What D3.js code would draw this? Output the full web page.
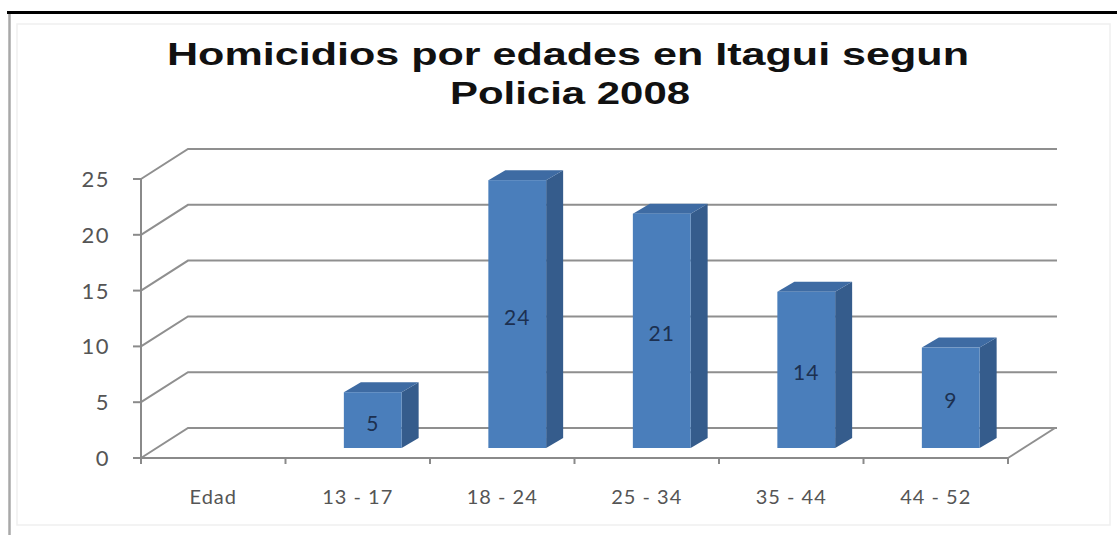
<!DOCTYPE html>
<html><head><meta charset="utf-8">
<script src="https://cdn.jsdelivr.net/npm/d3@7"></script>
<style>body{margin:0;background:#fff}svg{display:block}</style>
</head><body>
<svg id="c" width="1117" height="535"></svg>
<script>
const titleLines = ["Homicidios por edades en Itagui segun", "Policia 2008"];
const categories = ["Edad", "13 - 17", "18 - 24", "25 - 34", "35 - 44", "44 - 52"];
const values = [null, 5, 24, 21, 14, 9];
const yTicks = [0, 5, 10, 15, 20, 25];

const svg = d3.select("#c");
const W = 1117, H = 535;

// frame
svg.append("rect").attr("x",17).attr("y",24).attr("width",1093).attr("height",501)
  .attr("fill","#fff").attr("stroke","#efefef").attr("stroke-width",1.5);
svg.append("line").attr("x1",9.5).attr("x2",9.5).attr("y1",12).attr("y2",H)
  .attr("stroke","#a8a8a8").attr("stroke-width",2.5);
svg.append("line").attr("x1",7).attr("x2",W).attr("y1",12.5).attr("y2",12.5)
  .attr("stroke","#000").attr("stroke-width",3);

// scales
const x = d3.scaleBand().domain(categories).range([141, 1008]).padding(0);
const y = d3.scaleLinear().domain([0, 25]).range([458, 179]);
const DX = 47, DY = -30;        // wall depth
const BX = 15, BY = -10;        // bar depth position
const SX = 17, SY = -10;        // bar thickness
const barW = x.bandwidth() * 0.4;

const grid = svg.append("g").attr("stroke","#8f8f8f").attr("stroke-width",2).attr("fill","none");
yTicks.forEach(t => {
  const yy = y(t);
  grid.append("path").attr("d", `M${x.range()[0]},${yy}L${x.range()[0]+DX},${yy+DY}L${x.range()[1]+DX+2},${yy+DY}`);
});
grid.append("path").attr("d", `M${x.range()[1]},${y(0)}L${x.range()[1]+DX},${y(0)+DY}`);

// axes
const axisG = svg.append("g").attr("stroke","#8a8a8a").attr("stroke-width",2);
axisG.append("line").attr("x1",141).attr("x2",141).attr("y1",y(25)).attr("y2",y(0));
axisG.append("line").attr("x1",141).attr("x2",x.range()[1]).attr("y1",y(0)).attr("y2",y(0));
yTicks.forEach(t => axisG.append("line").attr("x1",133).attr("x2",141).attr("y1",y(t)).attr("y2",y(t)));
const bounds = categories.map(c => x(c)).concat([x.range()[1]]);
bounds.forEach(b => axisG.append("line").attr("x1",b).attr("x2",b).attr("y1",y(0)).attr("y2",y(0)+6));

// y labels
svg.append("g").selectAll("text").data(yTicks).join("text")
  .attr("x",110).attr("y",d=>y(d)).attr("dy","0.36em").attr("text-anchor","end")
  .attr("font-family","Lato, 'Open Sans', sans-serif").attr("font-size",22)
  .attr("letter-spacing",1.5)
  .attr("fill","#555").text(d=>d);

// x labels
svg.append("g").selectAll("text").data(categories).join("text")
  .attr("x",d=>x(d)+x.bandwidth()/2).attr("y",504).attr("text-anchor","middle")
  .attr("font-family","Lato, 'Open Sans', sans-serif").attr("font-size",20)
  .attr("letter-spacing",1)
  .attr("fill","#555").text(d=>d);

// bars
const data = categories.map((c,i)=>({c, v: values[i]})).filter(d=>d.v!=null);
const bars = svg.append("g");
data.forEach(d => {
  const x0 = x(d.c) + x.bandwidth()/2 + BX - barW/2;
  const x1 = x0 + barW;
  const yb = y(0) + BY;
  const yt = y(d.v) + BY;
  const g = bars.append("g");
  g.append("path").attr("fill","#355c8c")
    .attr("d", `M${x1},${yt}L${x1+SX},${yt+SY}L${x1+SX},${yb+SY}L${x1},${yb}Z`);
  g.append("path").attr("fill","#3e6ba3")
    .attr("d", `M${x0},${yt}L${x0+SX},${yt+SY}L${x1+SX},${yt+SY}L${x1},${yt}Z`);
  g.append("rect").attr("x",x0).attr("y",yt).attr("width",barW).attr("height",yb-yt)
    .attr("fill","#4a7ebb");
  g.append("text").attr("x",(x0+x1)/2).attr("y",(yt+yb)/2 + 3).attr("dy","0.36em")
    .attr("text-anchor","middle").attr("font-family","Lato, 'Open Sans', sans-serif")
    .attr("font-size",21).attr("letter-spacing",1).attr("fill","#1c3050").text(d.v);
});

// title
const tX = [167, 450], tW = [802, 240], tY = [65, 104];
titleLines.forEach((t,i) => {
  svg.append("text").attr("x",tX[i]).attr("y",tY[i])
    .attr("font-family","'Liberation Sans', Arial, sans-serif").attr("font-weight","bold")
    .attr("font-size",32).attr("fill","#111")
    .attr("textLength",tW[i]).attr("lengthAdjust","spacingAndGlyphs").text(t);
});
</script>
</body></html>
